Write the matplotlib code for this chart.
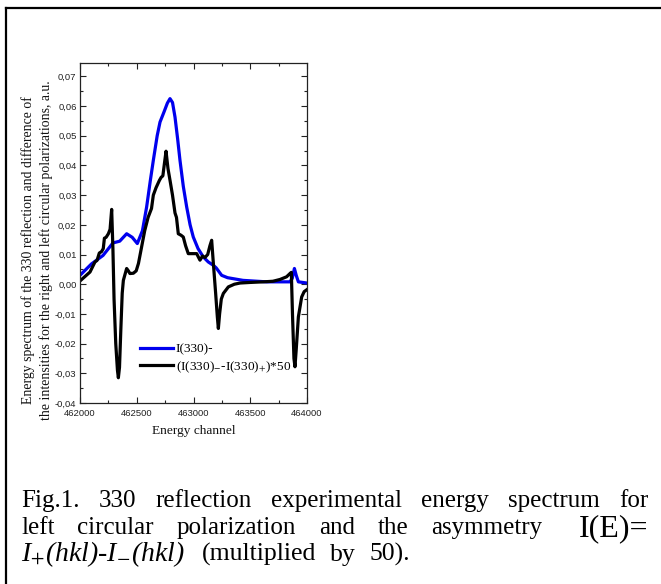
import matplotlib
matplotlib.use("Agg")
import matplotlib.pyplot as plt
from matplotlib.ticker import MultipleLocator, FixedLocator
from matplotlib.lines import Line2D

plt.rcParams['mathtext.fontset'] = 'stix'

# ---------------- data ----------------
E_blue = [462000, 462100, 462203, 462290, 462350, 462411, 462460, 462505, 462550,
          462587, 462620, 462646, 462680, 462705, 462740, 462770, 462793, 462815,
          462837, 462860, 462881, 462910, 462940, 462970, 462998, 463040, 463086,
          463130, 463174, 463200, 463248, 463300, 463436, 463645, 463850, 463870,
          463889, 463905, 463924, 464000]
I_blue = [0.0030, 0.0068, 0.0097, 0.0139, 0.0145, 0.0170, 0.0158, 0.0137, 0.0180,
          0.0260, 0.0350, 0.0417, 0.0500, 0.0546, 0.0580, 0.0610, 0.0625, 0.0612,
          0.0563, 0.0490, 0.0417, 0.0330, 0.0260, 0.0200, 0.0159, 0.0120, 0.0092,
          0.0075, 0.0064, 0.0055, 0.0030, 0.0022, 0.0013, 0.0008, 0.0008, 0.0020,
          0.0053, 0.0030, 0.0008, 0.0004]

E_black = [462000, 462088, 462132, 462150, 462170, 462190, 462205, 462215, 462230,
           462250, 462265, 462279, 462290, 462300, 462315, 462330, 462338, 462348,
           462360, 462372, 462382, 462411, 462426, 462440, 462470, 462495, 462515,
           462540, 462570, 462600, 462630, 462646, 462670, 462700, 462715, 462730,
           462745, 462758, 462775, 462793, 462815, 462837, 462850, 462866, 462890,
           462910, 462930, 462954, 462990, 463028, 463045, 463057, 463080, 463101,
           463125, 463145, 463160, 463175, 463195, 463210, 463219, 463230, 463245,
           463263, 463307, 463360, 463410, 463500, 463615, 463700, 463762, 463820,
           463850, 463862, 463872, 463885, 463894, 463905, 463924, 463953, 463975,
           464000]
D_black = [0.0011, 0.0041, 0.0075, 0.0080, 0.0105, 0.0110, 0.0120, 0.0155, 0.0158,
           0.0170, 0.0185, 0.0252, 0.0120, -0.0050, -0.0200, -0.0290, -0.0315, -0.0280,
           -0.0150, -0.0030, 0.0013, 0.0053, 0.0045, 0.0036, 0.0037, 0.0045, 0.0070,
           0.0120, 0.0180, 0.0225, 0.0255, 0.0300, 0.0325, 0.0350, 0.0360, 0.0365,
           0.0410, 0.0448, 0.0390, 0.0350, 0.0300, 0.0240, 0.0225, 0.0170, 0.0165,
           0.0159, 0.0130, 0.0103, 0.0103, 0.0103, 0.0090, 0.0081, 0.0095, 0.0090,
           0.0100, 0.0130, 0.0148, 0.0070, -0.0030, -0.0110, -0.0149, -0.0100, -0.0050,
           -0.0031, -0.0009, 0.0000, 0.0004, 0.0006, 0.0008, 0.0010, 0.0016, 0.0025,
           0.0036, 0.0040, -0.0100, -0.0250, -0.0278, -0.0220, -0.0110, -0.0043, -0.0025,
           -0.0018]

x_ticks = [462000, 462500, 463000, 463500, 464000]
x_tick_labels = ["462000", "462500", "463000", "463500", "464000"]
y_ticks = [-0.04, -0.03, -0.02, -0.01, 0.00, 0.01, 0.02, 0.03, 0.04, 0.05, 0.06, 0.07]
y_tick_labels = ["-0,04", "-0,03", "-0,02", "-0,01", "0,00", "0,01", "0,02", "0,03",
                 "0,04", "0,05", "0,06", "0,07"]

label_blue = "I(330)-"
label_black = "(I(330)$_{-}$-I(330)$_{+}$)*50"
x_label = "Energy channel"
y_label = ("Energy spectrum of the 330 reflection and difference of\n"
           "the intensities for the right and left circular polarizations, a.u.")

caption_line1 = ["Fig.1.", "330", "reflection", "experimental", "energy", "spectrum", "for"]
caption_line2 = ["left", "circular", "polarization", "and", "the", "asymmetry"]
caption_formula2 = "I(E)="
caption_formula3 = "I$_{+}$(hkl)-I$_{-}$(hkl)"
caption_line3 = ["(multiplied", "by", "50)."]

# ---------------- figure ----------------
W, H = 661, 584
fig = plt.figure(figsize=(W / 100, H / 100), dpi=100)

def fx(px):
    return px / W

def fy(py):
    return 1 - py / H

ax_l, ax_r, ax_t, ax_b = 80, 307, 63, 403
ax = fig.add_axes([fx(ax_l), fy(ax_b), fx(ax_r) - fx(ax_l), fy(ax_t) - fy(ax_b)])

ax.plot(E_blue, I_blue, color='#0000ee', lw=2.3, solid_joinstyle='round', label=label_blue)
ax.plot(E_black, D_black, color='black', lw=2.3, solid_joinstyle='round', label=label_black)

ax.set_xlim(462000, 464000)
ax.set_ylim(-0.04, 0.0745)
ax.xaxis.set_major_locator(FixedLocator(x_ticks))
ax.set_xticklabels(x_tick_labels)
ax.xaxis.set_minor_locator(MultipleLocator(250))
ax.yaxis.set_major_locator(FixedLocator(y_ticks))
ax.set_yticklabels(y_tick_labels)
ax.yaxis.set_minor_locator(MultipleLocator(0.005))

for s in ax.spines.values():
    s.set_color('#222222')
    s.set_linewidth(0.9)
ax.tick_params(which='both', direction='in', top=True, right=True, color='#222222', width=0.8)
ax.tick_params(which='major', length=4.0, labelsize=6.8, labelcolor='#222222')
ax.tick_params(axis='x', which='major', pad=4.5)
ax.tick_params(axis='y', which='major', pad=2.5)
ax.tick_params(which='minor', length=2.2)
for lab in ax.get_xticklabels() + ax.get_yticklabels():
    lab.set_fontfamily('Liberation Sans')

leg = ax.legend(loc='center left', bbox_to_anchor=(fx(140), fy(358.7)),
                bbox_transform=fig.transFigure, frameon=False,
                prop={'family': 'Liberation Serif', 'size': 9.5},
                handlelength=2.5, handletextpad=0.2, labelspacing=0.3,
                borderpad=0, borderaxespad=0)

fig.text(fx(193.5), fy(431), x_label, ha='center', va='center',
         family='Liberation Serif', fontsize=9.6, color='#111111')
fig.text(fx(37.5), fy(250), y_label, ha='center', va='center', rotation=90,
         multialignment='center', linespacing=1.4,
         family='Liberation Serif', fontsize=9.9, color='#111111')

# page frame (top and left rules)
fig.add_artist(Line2D([fx(6), 1.0], [fy(8), fy(8)], color='black', lw=1.6,
                      transform=fig.transFigure))
fig.add_artist(Line2D([fx(6), fx(6)], [fy(8), 0.0], color='black', lw=1.6,
                      transform=fig.transFigure))

# ---------------- caption (justified) ----------------
renderer = fig.canvas.get_renderer()
FS = 18

def place_words(words, y_base, x0, x1, fs, justify=True, align='left', **kw):
    texts = [fig.text(fx(x0), fy(y_base), w, ha='left', va='baseline',
                      family='Liberation Serif', color='black', fontsize=fs, **kw)
             for w in words]
    widths = [t.get_window_extent(renderer).width for t in texts]
    n = len(texts)
    if justify and n > 1:
        gap = (x1 - x0 - sum(widths)) / (n - 1)
        x = x0
    else:
        gap = 0.0
        x = x0 if align == 'left' else x1 - sum(widths)
    for i, t in enumerate(texts):
        t.set_x(fx(x))
        x += widths[i] + gap

place_words(caption_line1, 507, 21, 648, FS)
place_words(caption_line2, 534, 21, 542, FS)
place_words([caption_formula2], 536, 21, 648, 23, justify=False, align='right')
place_words([caption_formula3], 561, 21, 200, 20, justify=False, style='italic')
place_words(caption_line3, 561, 202, 410, 18.5)

fig.savefig("out.png", dpi=100)
